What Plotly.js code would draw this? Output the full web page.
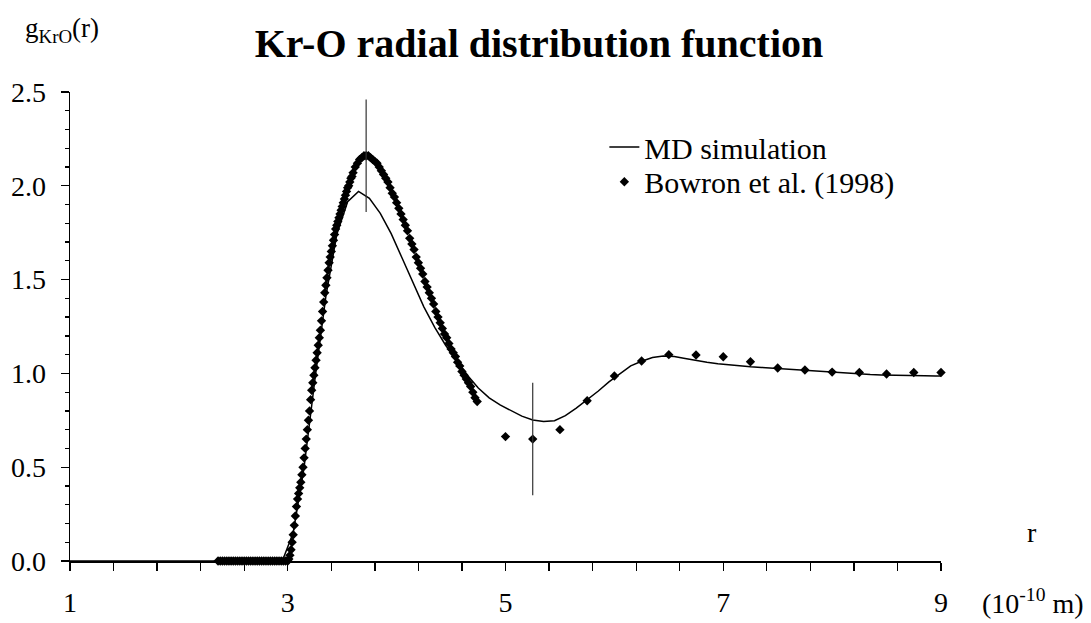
<!DOCTYPE html>
<html>
<head>
<meta charset="utf-8">
<script src="https://cdn.plot.ly/plotly-3.0.1.min.js"></script>
<style>html,body{margin:0;padding:0;background:#fff;}#chart{width:1091px;height:623px;}</style>
</head>
<body>
<div id="chart"></div>
<script>
// MD simulation curve g_KrO(r)
const mdR = [1.0, 2.85, 2.95, 3.05, 3.15, 3.25, 3.35, 3.45, 3.55, 3.65, 3.75, 3.85, 3.95, 4.05, 4.15, 4.25, 4.35, 4.45, 4.55, 4.65, 4.75, 4.85, 4.95, 5.05, 5.15, 5.25, 5.35, 5.45, 5.55, 5.65, 5.75, 5.85, 5.95, 6.05, 6.15, 6.25, 6.35, 6.45, 6.55, 6.65, 6.75, 6.85, 6.95, 7.05, 7.15, 7.25, 7.35, 7.45, 7.55, 7.65, 7.75, 7.85, 7.95, 8.05, 8.15, 8.25, 8.35, 8.45, 8.55, 8.65, 8.75, 8.85, 8.95, 9.0];
const mdG = [0, 0, 0, 0.15, 0.50, 0.97, 1.41, 1.74, 1.915, 1.97, 1.933, 1.853, 1.745, 1.615, 1.48, 1.355, 1.245, 1.15, 1.07, 0.99, 0.922, 0.87, 0.832, 0.80, 0.772, 0.752, 0.743, 0.748, 0.775, 0.815, 0.858, 0.905, 0.955, 1.00, 1.04, 1.065, 1.085, 1.093, 1.09, 1.08, 1.068, 1.06, 1.052, 1.046, 1.04, 1.036, 1.032, 1.028, 1.024, 1.02, 1.015, 1.01, 1.007, 1.004, 1.0, 0.997, 0.994, 0.992, 0.99, 0.989, 0.988, 0.987, 0.986, 0.986];

// Bowron et al. (1998) – flat region below contact
const bowFlatR = [2.36, 2.38, 2.40, 2.42, 2.44, 2.46, 2.48, 2.50, 2.52, 2.54, 2.56, 2.58, 2.60, 2.62, 2.64, 2.66, 2.68, 2.70, 2.72, 2.74, 2.76, 2.78, 2.80, 2.82, 2.84, 2.86, 2.88, 2.90, 2.92, 2.94, 2.96, 2.98];
const bowFlatG = [0, 0, 0, 0, 0, 0, 0, 0, 0, 0, 0, 0, 0, 0, 0, 0, 0, 0, 0, 0, 0, 0, 0, 0, 0, 0, 0, 0, 0, 0, 0, 0];
// rising edge of first peak
const bowRiseR = [3.00, 3.01, 3.02, 3.03, 3.04, 3.05, 3.06, 3.07, 3.08, 3.09, 3.10, 3.11, 3.12, 3.13, 3.14, 3.15, 3.16, 3.17, 3.18, 3.19, 3.20, 3.21, 3.22, 3.23, 3.24, 3.25, 3.26, 3.27, 3.28, 3.29, 3.30, 3.31, 3.32, 3.33, 3.34, 3.35, 3.36, 3.37, 3.38, 3.39, 3.40, 3.41, 3.42, 3.43, 3.44, 3.45, 3.46, 3.47, 3.48, 3.49, 3.50, 3.51, 3.52, 3.53, 3.54, 3.55, 3.56, 3.57, 3.58, 3.59, 3.60];
const bowRiseG = [0.00, 0.01, 0.03, 0.06, 0.10, 0.14, 0.19, 0.24, 0.29, 0.33, 0.36, 0.39, 0.42, 0.46, 0.50, 0.55, 0.60, 0.65, 0.70, 0.75, 0.80, 0.86, 0.91, 0.95, 0.99, 1.03, 1.07, 1.11, 1.15, 1.19, 1.23, 1.28, 1.33, 1.38, 1.43, 1.47, 1.51, 1.55, 1.59, 1.62, 1.65, 1.68, 1.71, 1.74, 1.77, 1.79, 1.81, 1.83, 1.85, 1.87, 1.89, 1.91, 1.93, 1.95, 1.97, 1.99, 2.00, 2.02, 2.04, 2.05, 2.07];
// peak and falling edge
const bowFallR = [3.62, 3.64, 3.66, 3.68, 3.70, 3.72, 3.74, 3.76, 3.78, 3.80, 3.82, 3.84, 3.86, 3.88, 3.90, 3.92, 3.94, 3.96, 3.98, 4.00, 4.02, 4.04, 4.06, 4.08, 4.10, 4.12, 4.14, 4.16, 4.18, 4.20, 4.22, 4.24, 4.26, 4.28, 4.30, 4.32, 4.34, 4.36, 4.38, 4.40, 4.42, 4.44, 4.46, 4.48, 4.50, 4.52, 4.54, 4.56, 4.58, 4.60, 4.62, 4.64, 4.66, 4.68, 4.70, 4.72, 4.74];
const bowFallG = [2.10, 2.12, 2.14, 2.15, 2.16, 2.16, 2.16, 2.15, 2.14, 2.13, 2.12, 2.10, 2.08, 2.06, 2.04, 2.02, 1.99, 1.96, 1.94, 1.91, 1.88, 1.85, 1.82, 1.79, 1.76, 1.72, 1.69, 1.66, 1.62, 1.59, 1.56, 1.53, 1.49, 1.46, 1.43, 1.40, 1.37, 1.33, 1.30, 1.27, 1.24, 1.21, 1.19, 1.16, 1.13, 1.11, 1.09, 1.06, 1.04, 1.01, 0.99, 0.97, 0.95, 0.93, 0.90, 0.87, 0.85];
// sparse points beyond the first peak
const bowTailR = [5.0, 5.25, 5.5, 5.75, 6.0, 6.25, 6.5, 6.75, 7.0, 7.25, 7.5, 7.75, 8.0, 8.25, 8.5, 8.75, 9.0];
const bowTailG = [0.663, 0.65, 0.70, 0.854, 0.986, 1.066, 1.10, 1.098, 1.089, 1.062, 1.029, 1.018, 1.007, 1.005, 0.997, 1.005, 1.005];

// error bars
const errR = [3.72, 5.25];
const errG = [2.16, 0.65];
const errPM = [0.30, 0.30];

const FONT = '"Liberation Serif", "Times New Roman", serif';

const bowR = bowFlatR.concat(bowRiseR, bowFallR, bowTailR);
const bowG = bowFlatG.concat(bowRiseG, bowFallG, bowTailG);

const traces = [
  {x: mdR, y: mdG, type: 'scatter', mode: 'lines', name: 'MD simulation', legend: 'legend',
   line: {color: '#000', width: 1.5}, cliponaxis: false},
  {x: bowR, y: bowG, type: 'scatter', mode: 'markers', name: 'Bowron et al. (1998)', legend: 'legend2',
   marker: {symbol: 'diamond', size: 7.2, color: '#000'}, cliponaxis: false},
  {x: errR, y: errG, type: 'scatter', mode: 'markers', showlegend: false, hoverinfo: 'skip',
   marker: {size: 1, color: 'rgba(0,0,0,0)'},
   error_y: {type: 'data', array: errPM, visible: true, color: '#333', thickness: 1.2, width: 0},
   cliponaxis: false}
];

const legendFont = {family: FONT, size: 30, color: '#000'};

const layout = {
  width: 1091, height: 623,
  margin: {l: 70, r: 150, t: 92, b: 62},
  paper_bgcolor: '#fff', plot_bgcolor: '#fff',
  font: {family: FONT, size: 28, color: '#000'},
  title: {text: '<b>Kr-O radial distribution function</b>', font: {family: FONT, size: 40, color: '#000'},
          x: 539/1091, xref: 'container', y: 1 - 43/623, yref: 'container', xanchor: 'center', yanchor: 'middle'},
  showlegend: true,
  legend: {x: 0.6135, y: 0.938, xanchor: 'left', yanchor: 'top', bgcolor: 'rgba(0,0,0,0)',
           font: legendFont, itemwidth: 30},
  legend2: {x: 0.6135, y: 0.864, xanchor: 'left', yanchor: 'top', bgcolor: 'rgba(0,0,0,0)',
            font: legendFont, itemwidth: 30},
  xaxis: {range: [1, 9], tickmode: 'linear', tick0: 1, dtick: 2, showgrid: false, zeroline: false,
          showline: true, linecolor: '#000', linewidth: 1.5, ticks: 'outside', ticklen: 8, tickwidth: 1.3,
          tickcolor: '#000', ticklabelstandoff: 8,
          minor: {tick0: 1, dtick: 0.4, ticks: 'outside', ticklen: 8, tickwidth: 1.3, tickcolor: '#000', showgrid: false},
          tickfont: {family: FONT, size: 28, color: '#000'}},
  yaxis: {range: [0, 2.5], tickmode: 'linear', tick0: 0, dtick: 0.5, tickformat: '.1f', showgrid: false, zeroline: false,
          showline: true, linecolor: '#000', linewidth: 1.5, ticks: 'outside', ticklen: 8, tickwidth: 1.3,
          tickcolor: '#000', ticklabelstandoff: 9,
          minor: {tick0: 0, dtick: 0.1, ticks: 'outside', ticklen: 4, tickwidth: 1.3, tickcolor: '#000', showgrid: false},
          tickfont: {family: FONT, size: 28, color: '#000'}},
  annotations: [
    {text: 'g<sub>KrO</sub>(r)', xref: 'paper', yref: 'paper', x: -0.009, y: 1.132, xanchor: 'center', yanchor: 'middle',
     showarrow: false, font: {family: FONT, size: 27, color: '#000'}},
    {text: 'r', xref: 'paper', yref: 'paper', x: 1.1045, y: 0.06, xanchor: 'center', yanchor: 'middle',
     showarrow: false, font: {family: FONT, size: 28, color: '#000'}},
    {text: '(10<sup>-10</sup> m)', xref: 'paper', yref: 'paper', x: 1.1056, y: -0.0874, xanchor: 'center', yanchor: 'middle',
     showarrow: false, font: {family: FONT, size: 28, color: '#000'}}
  ]
};

Plotly.newPlot('chart', traces, layout, {displayModeBar: false, staticPlot: true});
</script>
</body>
</html>
